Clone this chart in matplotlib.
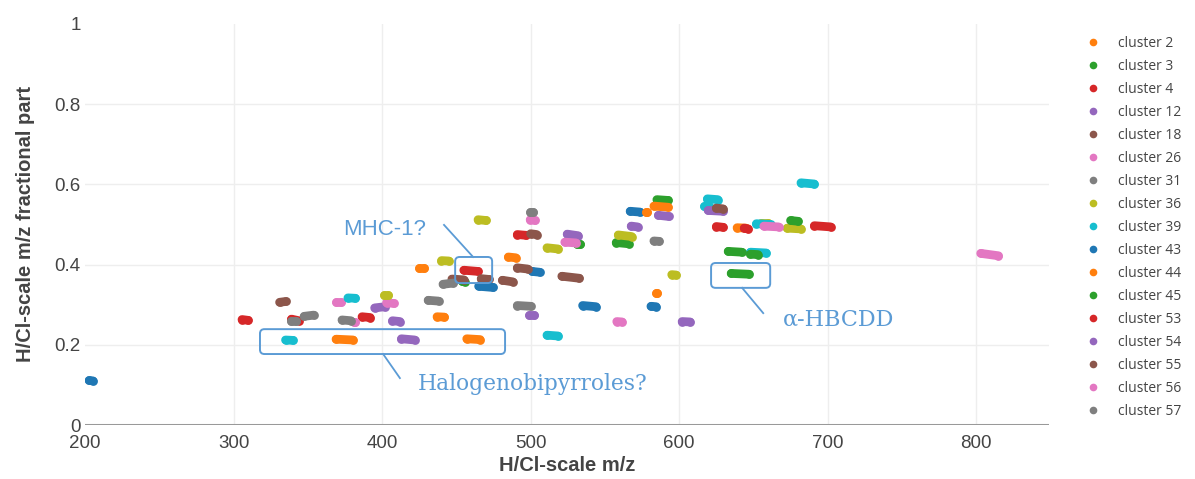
import matplotlib
matplotlib.use("Agg")
import matplotlib.pyplot as plt
from matplotlib.lines import Line2D
from matplotlib.patches import FancyBboxPatch

# ---- data: each blob is (x_start, x_end, y_start, y_end) ----
cluster_names = ["cluster 2", "cluster 3", "cluster 4", "cluster 12", "cluster 18",
                 "cluster 26", "cluster 31", "cluster 36", "cluster 39", "cluster 43",
                 "cluster 44", "cluster 45", "cluster 53", "cluster 54", "cluster 55",
                 "cluster 56", "cluster 57"]

cluster_2 = [(369, 380.5, .214, .212), (457, 466, .215, .213), (425, 428, .391, .391),
             (437, 442, .270, .269), (485, 490, .419, .417)]
cluster_3 = [(454, 455.5, .358, .357), (531, 533, .452, .452), (557.6, 566, .455, .452),
             (585, 592.6, .562, .560)]
cluster_4 = [(305.7, 309.8, .263, .261), (339, 344, .264, .260), (386.5, 392, .270, .268),
             (455, 464.6, .386, .383)]
cluster_12 = [(395, 402, .292, .295), (407, 412, .260, .258), (413, 422, .215, .212),
              (499, 502, .275, .275), (524.6, 532, .476, .472)]
cluster_18 = [(331, 335, .306, .308), (447, 455, .364, .362), (466.7, 472, .365, .363),
              (481, 488, .361, .357)]
cluster_26 = [(369, 372.4, .306, .306), (381, 381.5, .256, .256), (403, 408, .305, .303),
              (499.7, 503, .512, .510)]
cluster_31 = [(338.7, 342, .259, .259), (347.5, 354, .271, .274), (373, 379, .262, .260),
              (431, 438, .311, .309)]
cluster_36 = [(401, 404, .324, .324), (440, 445, .410, .409), (464.6, 470, .512, .510),
              (511, 518.5, .442, .439), (559, 568, .474, .470), (595, 598, .375, .374),
              (655, 660, .504, .504), (672.7, 682, .491, .489)]
cluster_39 = [(335, 340, .212, .211), (377, 382, .317, .316), (511, 518.5, .224, .222),
              (617, 620, .546, .546), (619, 626, .564, .562), (648, 658.6, .431, .429),
              (652, 662, .502, .500), (682, 691, .604, .601)]
cluster_43 = [(202.7, 205.4, .111, .110), (465, 474.7, .346, .343), (501, 506, .383, .381),
              (535, 544, .298, .295), (567, 573.7, .533, .531), (581, 584.5, .296, .295)]
cluster_44 = [(577.8, 578.5, .530, .530), (583, 592.6, .546, .543), (584.5, 585.2, .330, .330),
              (639, 645, .492, .491)]
cluster_45 = [(633, 642, .433, .431), (648, 653, .426, .425), (635, 647, .378, .376),
              (675, 680, .510, .508)]
cluster_53 = [(491, 497, .475, .473), (625, 629.6, .495, .493), (643.8, 646.5, .491, .489),
              (691, 702, .497, .494)]
cluster_54 = [(567.7, 572, .496, .494), (586, 593, .523, .520), (602, 607.4, .258, .257),
              (619.5, 629.6, .535, .533)]
cluster_55 = [(491, 498, .392, .389), (500, 504, .477, .475), (521, 532.7, .371, .366),
              (625, 629.6, .541, .539)]
cluster_56 = [(523, 530.6, .456, .454), (558, 561.6, .258, .257), (657, 667, .496, .494),
              (803, 815, .428, .422)]
cluster_57 = [(441, 448, .351, .354), (491, 500, .298, .296), (499.7, 501.7, .532, .532),
              (583, 586.5, .459, .458)]

clusters = [cluster_2, cluster_3, cluster_4, cluster_12, cluster_18, cluster_26, cluster_31,
            cluster_36, cluster_39, cluster_43, cluster_44, cluster_45, cluster_53, cluster_54,
            cluster_55, cluster_56, cluster_57]

x_ticks = [200, 300, 400, 500, 600, 700, 800]
y_ticks = [0, 0.2, 0.4, 0.6, 0.8, 1]
y_tick_labels = ["0", "0.2", "0.4", "0.6", "0.8", "1"]

palette = ["#1f77b4", "#ff7f0e", "#2ca02c", "#d62728", "#9467bd",
           "#8c564b", "#e377c2", "#7f7f7f", "#bcbd22", "#17becf"]

ANN = "#5b9bd5"
TXT = "#444444"

fig = plt.figure(figsize=(11.95, 4.79), dpi=100)
ax = fig.add_axes([85 / 1195, 54 / 479, 964 / 1195, 401 / 479])
ax.set_xlim(200, 849)
ax.set_ylim(0, 1)

for s in ax.spines.values():
    s.set_visible(False)
ax.set_xticks(x_ticks)
ax.set_yticks(y_ticks)
ax.set_yticklabels(y_tick_labels)
ax.tick_params(length=0, labelsize=13.5, labelcolor=TXT)
ax.tick_params(axis="x", pad=7)
ax.tick_params(axis="y", pad=3)
for lab in ax.get_xticklabels() + ax.get_yticklabels():
    lab.set_fontfamily("Liberation Sans")
for x in x_ticks[1:]:
    ax.axvline(x, color="#eeeeee", lw=1, zorder=0)
for y in y_ticks[1:-1]:
    ax.axhline(y, color="#eeeeee", lw=1, zorder=0)
ax.axhline(0, color="#999999", lw=2.2, zorder=1)

handles = []
for i, (name, blobs) in enumerate(zip(cluster_names, clusters)):
    col = palette[(i + 1) % 10]
    for (x0, x1, y0, y1) in blobs:
        ax.plot([x0, x1], [y0, y1], "-o", color=col, lw=6.3, ms=6.3, mew=0,
                solid_capstyle="round", zorder=3 + i * 0.01)
    handles.append(Line2D([], [], marker="o", ls="", color=col, ms=5.5, mew=0, label=name))

ax.set_xlabel("H/Cl-scale m/z", fontsize=14.5, fontweight="bold", color=TXT,
              family="Liberation Sans", labelpad=3)
ax.set_ylabel("H/Cl-scale m/z fractional part", fontsize=14.5, fontweight="bold",
              color=TXT, family="Liberation Sans", labelpad=14)

# ---- annotations ----
def box(x0, x1, y0, y1):
    p = FancyBboxPatch((x0, y0), x1 - x0, y1 - y0,
                       boxstyle="round,pad=0,rounding_size=3.0",
                       mutation_aspect=(1.485 / 401), fill=False,
                       ec=ANN, lw=1.4, zorder=5)
    ax.add_patch(p)

box(449.2, 474.1, 0.354, 0.419)
box(621.5, 661.3, 0.342, 0.404)
box(317.8, 482.8, 0.177, 0.239)
ax.plot([461.3, 441.7], [0.419, 0.499], color=ANN, lw=1.3, zorder=5)
ax.plot([642.4, 656.6], [0.342, 0.279], color=ANN, lw=1.3, zorder=5)
ax.plot([400.7, 412.0], [0.177, 0.117], color=ANN, lw=1.3, zorder=5)
ax.text(429.6, 0.474, "MHC-1?", color=ANN, fontsize=16, fontfamily=["Liberation Sans", "DejaVu Sans"],
        ha="right", va="baseline", zorder=6)
ax.text(424.2, 0.0873, "Halogenobipyrroles?", color=ANN, fontsize=15.7, fontfamily="DejaVu Serif",
        ha="left", va="baseline", zorder=6)
ax.text(670, 0.249, "α-HBCDD", color=ANN, fontsize=16, fontfamily="DejaVu Serif",
        ha="left", va="baseline", zorder=6)

leg = fig.legend(handles=handles, loc="upper left", bbox_to_anchor=(1086 / 1195, 1 - 36 / 479),
                 frameon=False, labelspacing=0.575, handlelength=1.0,
                 handletextpad=1.3, borderpad=0, borderaxespad=0,
                 prop={"family": "Open Sans", "size": 10})
for t in leg.get_texts():
    t.set_color(TXT)

fig.savefig("out.png", dpi=100)
